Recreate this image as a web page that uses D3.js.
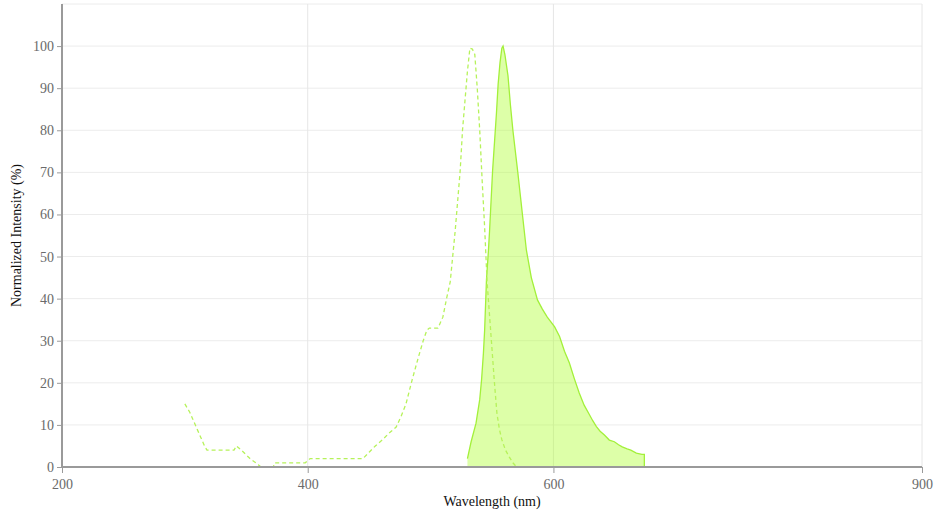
<!DOCTYPE html>
<html>
<head>
<meta charset="utf-8">
<script src="https://cdn.jsdelivr.net/npm/d3@7"></script>
<style>
  html, body { margin: 0; padding: 0; background: #fff; }
  svg { display: block; font-family: "Liberation Serif", "Times New Roman", serif; }
</style>
</head>
<body>
<svg id="chart" width="945" height="511"></svg>
<script>
const excitationWavelengths = [300, 304, 310, 316, 318, 340, 342, 346, 353, 360, 362, 372, 373, 398, 402, 445, 450, 455, 461, 466, 472, 476, 480, 485, 490, 494, 497, 499, 506, 510, 513, 516, 520, 524, 526, 528, 530, 532, 534, 536, 538, 540, 542, 544, 546, 548, 550, 552, 554, 556, 558, 561, 564, 567, 570];
const excitationValues      = [15, 13, 9, 5, 4, 4, 5, 4, 2, 0.5, 0, 0, 1, 1, 2, 2, 3.5, 5, 6.5, 8, 9.5, 12, 15, 20.7, 26, 30, 32.5, 33, 33, 35.6, 40, 44, 56, 70, 80, 87, 94, 99.5, 99.3, 98, 90, 80, 68, 57, 44, 36, 28, 20, 12.8, 9, 6.5, 4, 2.4, 1, 0];

const emissionWavelengths = [530, 533, 537, 540, 541.5, 543, 544, 545.5, 547, 548, 550.5, 552, 553.6, 555, 556.5, 558, 559, 560.5, 563, 565, 567, 571, 575, 578, 582, 587, 591, 595, 601, 605, 609, 613, 617, 621, 625, 629, 632, 635, 638, 641.5, 645.5, 649.6, 653, 656, 660, 663, 667.5, 672, 674, 674];
const emissionValues      = [2, 6, 10.4, 16, 20.7, 27, 32.5, 44.5, 51, 56, 70.5, 77, 84, 91, 96, 99.5, 100, 98, 93, 86, 80, 70, 59.4, 51.5, 45, 39.7, 37.5, 35.6, 33.3, 31, 27.5, 24.7, 21, 17.6, 14.7, 12.6, 11, 9.6, 8.5, 7.6, 6.4, 6, 5.3, 4.8, 4.3, 4, 3.3, 3, 3, 0];

const xTicks = [200, 400, 600, 900];
const yTicks = [0, 10, 20, 30, 40, 50, 60, 70, 80, 90, 100];
const xDomain = [200, 900];
const yDomain = [0, 110];

const FONT = "Liberation Serif, Times New Roman, serif";
const svg = d3.select("#chart");
const margin = { left: 62, right: 23, top: 4, bottom: 44 };
const W = 945, H = 511;

const x = d3.scaleLinear().domain(xDomain).range([margin.left, W - margin.right]);
const y = d3.scaleLinear().domain(yDomain).range([H - margin.bottom, margin.top]);

const excitation = excitationWavelengths.map((w, i) => ({ w, v: excitationValues[i] }));
const emission = emissionWavelengths.map((w, i) => ({ w, v: emissionValues[i] }));

// grid
const grid = svg.append("g");
grid.selectAll("line.h").data(yTicks.filter(d => d > 0).concat([yDomain[1]])).join("line")
  .attr("x1", x(xDomain[0])).attr("x2", x(xDomain[1]))
  .attr("y1", d => y(d)).attr("y2", d => y(d))
  .attr("stroke", "#ececec").attr("stroke-width", 1);
grid.selectAll("line.v").data(xTicks.filter(d => d > xDomain[0])).join("line")
  .attr("x1", d => x(d)).attr("x2", d => x(d))
  .attr("y1", y(yDomain[0])).attr("y2", y(yDomain[1]))
  .attr("stroke", "#e6e6e6").attr("stroke-width", 1);

// emission area
const area = d3.area().x(d => x(d.w)).y0(y(0)).y1(d => y(d.v));
svg.append("path").datum(emission)
  .attr("d", area)
  .attr("fill", "rgba(173, 255, 47, 0.42)")
  .attr("stroke", "none");
const line = d3.line().x(d => x(d.w)).y(d => y(d.v));
svg.append("path").datum(emission)
  .attr("d", line)
  .attr("fill", "none")
  .attr("stroke", "#a3f03a")
  .attr("stroke-width", 1.3);

// excitation dashed
svg.append("path").datum(excitation)
  .attr("d", line)
  .attr("fill", "none")
  .attr("stroke", "#b6f25a")
  .attr("stroke-width", 1.3)
  .attr("stroke-dasharray", "4,3");

// axes
const xAxis = svg.append("g").attr("transform", `translate(0,${y(0)})`)
  .call(d3.axisBottom(x).tickValues(xTicks).tickSize(6).tickFormat(d3.format("d")));
const yAxis = svg.append("g").attr("transform", `translate(${x(xDomain[0])},0)`)
  .call(d3.axisLeft(y).tickValues(yTicks).tickSize(5).tickFormat(d3.format("d")));

[xAxis, yAxis].forEach(g => {
  g.attr("font-family", FONT).attr("font-size", 14);
  g.selectAll(".domain").attr("stroke", "#9a9a9a").attr("stroke-width", 2);
  g.selectAll(".tick line").attr("stroke", "#9a9a9a");
  g.selectAll(".tick text").attr("fill", "#6a6a6a");
});
xAxis.selectAll(".domain").attr("d", `M${x(xDomain[0])},0H${x(xDomain[1])}`);
yAxis.selectAll(".domain").attr("d", `M0,${y(0)}V${y(yDomain[1])}`);
xAxis.selectAll(".tick text").attr("dy", "0.9em");

// axis titles
svg.append("text")
  .attr("x", (x(xDomain[0]) + x(xDomain[1])) / 2)
  .attr("y", 506)
  .attr("text-anchor", "middle")
  .attr("fill", "#111")
  .attr("font-family", FONT)
  .attr("font-size", 14)
  .text("Wavelength (nm)");
svg.append("text")
  .attr("transform", `translate(21,${(y(0) + y(yDomain[1])) / 2}) rotate(-90)`)
  .attr("text-anchor", "middle")
  .attr("fill", "#111")
  .attr("font-family", FONT)
  .attr("font-size", 14)
  .text("Normalized Intensity (%)");
</script>
</body>
</html>
